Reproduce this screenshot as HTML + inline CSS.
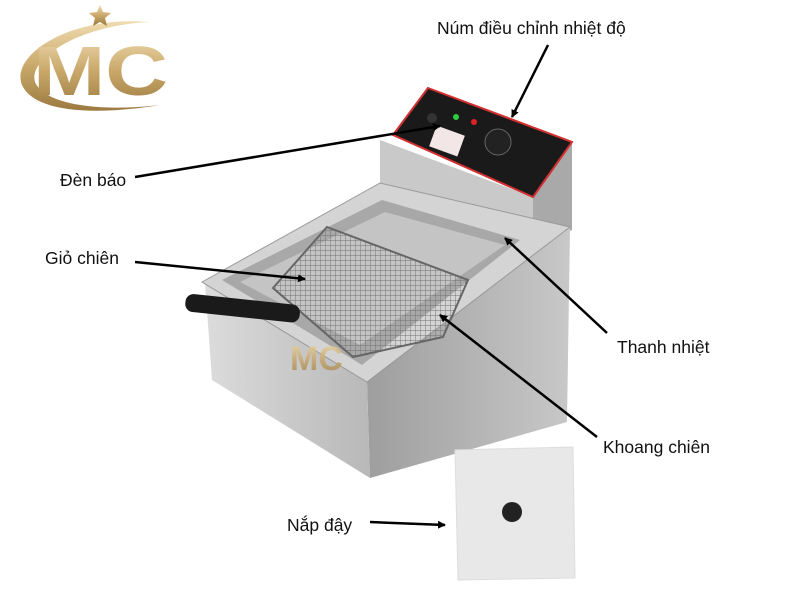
<!DOCTYPE html>
<html><head><meta charset="utf-8"><style>
body{margin:0;background:#fff;width:800px;height:600px;overflow:hidden}
svg{display:block}
text{font-family:"Liberation Sans","DejaVu Sans",sans-serif}
</style></head><body>
<svg width="800" height="600" viewBox="0 0 800 600" xmlns="http://www.w3.org/2000/svg">
<defs>
<linearGradient id="gold" x1="0" y1="0" x2="0" y2="1"><stop offset="0" stop-color="#f0dcb0"/><stop offset="0.5" stop-color="#c9a86a"/><stop offset="1" stop-color="#9c7a40"/></linearGradient>
<linearGradient id="front" x1="0" y1="0" x2="1" y2="0"><stop offset="0" stop-color="#dcdcdc"/><stop offset="1" stop-color="#b8b8b8"/></linearGradient>
<linearGradient id="side" x1="0" y1="0" x2="1" y2="0"><stop offset="0" stop-color="#9e9e9e"/><stop offset="1" stop-color="#c8c8c8"/></linearGradient>
<pattern id="mesh" width="5" height="5" patternUnits="userSpaceOnUse"><path d="M0 0H5M0 0V5" stroke="#707070" stroke-width="0.9"/></pattern>
<marker id="ah" markerWidth="8" markerHeight="8" refX="7" refY="4" orient="auto" markerUnits="userSpaceOnUse"><path d="M0 0L8 4L0 8z" fill="#000"/></marker>
</defs>
<!-- logo -->
<path d="M150 22 C70 15 10 55 22 85 C32 108 80 118 160 105 C100 112 45 105 35 82 C28 58 80 25 150 22z" fill="url(#gold)"/>
<path d="M100 5l3 7 8 1-6 5 2 8-7-4-7 4 2-8-6-5 8-1z" fill="url(#gold)"/>
<text x="33" y="95" font-size="70" font-weight="bold" fill="url(#gold)" textLength="135" lengthAdjust="spacingAndGlyphs">MC</text>
<!-- control box -->
<polygon points="380,140 533,197 533,245 380,188" fill="#c9c9c9"/>
<polygon points="533,197 572,142 572,230 533,245" fill="#a9a9a9"/>
<polygon points="428,88 572,142 533,197 393,135" fill="#1a1a1a" stroke="#d23030" stroke-width="2"/>
<rect x="432" y="130" width="30" height="22" fill="#f3e6e6" transform="rotate(20 447 141)"/>
<circle cx="498" cy="142" r="13" fill="#222" stroke="#666"/>
<circle cx="456" cy="117" r="3" fill="#2ecc40"/>
<circle cx="474" cy="122" r="3" fill="#d22"/>
<circle cx="432" cy="118" r="5" fill="#333"/>
<!-- body -->
<polygon points="367,382 570,227 567,422 370,478" fill="url(#side)"/>
<polygon points="205,283 367,382 370,478 212,380" fill="url(#front)"/>
<polygon points="202,282 380,183 570,227 367,382" fill="#d4d4d4" stroke="#999"/>
<polygon points="222,280 382,200 520,240 362,365" fill="#a8a8a8"/>
<polygon points="240,282 385,212 505,245 360,345" fill="#c4c4c4"/>
<!-- basket -->
<polygon points="273,288 327,227 468,280 443,337 353,357" fill="url(#mesh)" stroke="#666" stroke-width="2"/>
<rect x="185" y="299" width="115" height="18" rx="8" fill="#1a1a1a" transform="rotate(6 240 309)"/>
<text x="290" y="370" font-size="34" font-weight="bold" fill="url(#gold)" opacity="0.8">MC</text>
<!-- lid -->
<polygon points="455,450 573,447 575,578 458,580" fill="#e8e8e8" stroke="#ddd"/>
<circle cx="512" cy="512" r="10" fill="#222"/>
<!-- labels -->
<g font-size="17.5" fill="#111">
<text x="437" y="34">Núm điều chỉnh nhiệt độ</text>
<text x="60" y="186">Đèn báo</text>
<text x="45" y="264">Giỏ chiên</text>
<text x="617" y="353">Thanh nhiệt</text>
<text x="603" y="453">Khoang chiên</text>
<text x="287" y="531">Nắp đậy</text>
</g>
<g stroke="#000" stroke-width="2.5" fill="none">
<line x1="548" y1="45" x2="512" y2="117" marker-end="url(#ah)"/>
<line x1="135" y1="177" x2="440" y2="126" marker-end="url(#ah)"/>
<line x1="135" y1="262" x2="305" y2="279" marker-end="url(#ah)"/>
<line x1="607" y1="333" x2="505" y2="238" marker-end="url(#ah)"/>
<line x1="597" y1="437" x2="440" y2="315" marker-end="url(#ah)"/>
<line x1="370" y1="522" x2="445" y2="525" marker-end="url(#ah)"/>
</g>
</svg>
</body></html>
